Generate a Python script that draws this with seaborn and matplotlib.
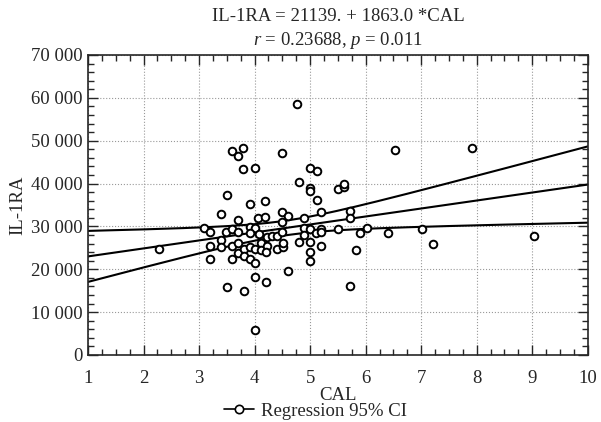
import numpy as np
import pandas as pd
import matplotlib.pyplot as plt
import seaborn as sns
from matplotlib.ticker import MultipleLocator, FuncFormatter
from matplotlib.lines import Line2D

# data
cal = [4.77, 3.60, 3.80, 3.70, 4.50, 3.80, 4.01, 4.80, 3.50, 3.92, 4.19, 3.39, 3.71, 4.07, 4.19, 4.49, 4.61, 4.49,
       3.09, 3.20, 3.48, 3.60, 3.71, 3.92, 4.01, 3.92, 4.08, 4.22, 4.31, 4.41, 4.50, 4.80, 2.28, 3.20, 3.39, 3.39,
       3.60, 3.71, 3.71, 3.81, 3.92, 4.01, 4.11, 4.11, 4.22, 4.20, 4.40, 4.52, 4.52, 3.20, 3.60, 3.81, 3.92, 4.01,
       4.61, 4.01, 4.20, 3.50, 3.81, 4.01,
       6.53, 7.92, 5.00, 5.13, 5.00, 5.00, 5.12, 5.51, 5.61, 5.61, 4.89, 5.20, 5.72, 5.72,
       4.89, 4.89, 5.00, 5.10, 5.20, 5.20, 5.51, 5.90, 6.02, 6.40, 7.01, 7.22, 5.00, 5.00, 5.00, 5.20, 5.82, 5.71,
       9.03]
il1ra = [58570, 47530, 48370, 46500, 47060, 43470, 43550, 40430, 37330, 35230, 36000, 32820, 31400, 31900, 32270,
         33440, 32430, 31100, 29560, 28630, 28770, 29330, 28630, 29790, 29560, 28400, 28160, 27460, 27760, 27760,
         28630, 26290, 24730, 25500, 26830, 25130, 25500, 26200, 23730, 24660, 25130, 24660, 26200, 24500, 25500,
         24100, 24730, 25130, 26200, 22400, 22320, 23100, 22320, 21390, 19600, 18270, 17100, 15940, 14860, 5830,
         47760, 48370, 43550, 43000, 38900, 38270, 36170, 38660, 39120, 39820, 31890, 33370, 33600, 31890,
         29560, 28000, 29330, 28400, 29330, 28630, 29330, 28540, 29560, 28540, 29330, 25830, 26440, 24100, 21930,
         25500, 24500, 16100, 27760]

intercept = 21139.0
slope = 1863.0

df = pd.DataFrame({"CAL": cal, "IL-1RA": il1ra})

# regression line and 95% CI from the stated coefficients
xs = np.linspace(1, 10, 200)
x = np.array(cal)
y = np.array(il1ra)
n = len(x)
resid = y - (intercept + slope * x)
s = np.sqrt(np.sum(resid ** 2) / (n - 2))
sxx = np.sum((x - x.mean()) ** 2)
half = 1.96 * s * np.sqrt(1 / n + (xs - x.mean()) ** 2 / sxx)
fit = intercept + slope * xs
lines = pd.DataFrame({"x": np.tile(xs, 3),
                      "y": np.concatenate([fit, fit + half, fit - half]),
                      "k": np.repeat(["fit", "upper", "lower"], len(xs))})

sns.set_style("ticks")
plt.rcParams["font.family"] = ["Liberation Serif", "DejaVu Serif"]
plt.rcParams["mathtext.fontset"] = "custom"
plt.rcParams["mathtext.it"] = "Liberation Serif:italic"
plt.rcParams["mathtext.rm"] = "Liberation Serif"

fig = plt.figure(figsize=(6.01, 4.22), dpi=100)
ax = fig.add_axes([0.1464, 0.1588, 0.8316, 0.7109])

for k in ["fit", "upper", "lower"]:
    sns.lineplot(data=lines[lines["k"] == k], x="x", y="y", color="black", lw=1.5, ax=ax)
sns.scatterplot(data=df, x="CAL", y="IL-1RA", marker="o", s=30, facecolor="white",
                edgecolor="black", linewidth=1.4, ax=ax, zorder=3)

ax.set_xlim(1, 10)
ax.set_ylim(0, 70000)
ax.xaxis.set_major_locator(MultipleLocator(1))
ax.xaxis.set_minor_locator(MultipleLocator(0.25))
ax.yaxis.set_major_locator(MultipleLocator(10000))
ax.yaxis.set_minor_locator(MultipleLocator(2000))
ax.yaxis.set_major_formatter(FuncFormatter(lambda v, p: f"{int(v):,}".replace(",", " ")))
ax.tick_params(which="both", direction="in", top=True, right=True, labelsize=13.5, width=1)
ax.tick_params(which="major", length=7)
ax.tick_params(which="minor", length=4)
ax.tick_params(axis="x", which="major", pad=11)
ax.tick_params(axis="y", which="major", pad=4)
ax.grid(True, which="major", linestyle=":", color="#999999", lw=0.8)
for sp in ax.spines.values():
    sp.set_linewidth(1.2)

ax.set_xlabel("CAL", fontsize=13.5, labelpad=0)
ax.set_ylabel("IL-1RA", fontsize=13.5, labelpad=3)
ax.set_title("IL-1RA = 21139. + 1863.0 *CAL\n$r$ = 0.23688, $p$ = 0.011", fontsize=13.5, pad=7, linespacing=1.35)

handle = Line2D([], [], color="black", lw=1.2, marker="o", markersize=6, markerfacecolor="white",
                markeredgewidth=1.2)
fig.legend([handle], ["Regression 95% CI"], loc="center", bbox_to_anchor=(0.525, 0.026),
           frameon=False, fontsize=13.5, handlelength=1.6, handletextpad=0.35, borderpad=0)

fig.savefig("out.png", dpi=100)
